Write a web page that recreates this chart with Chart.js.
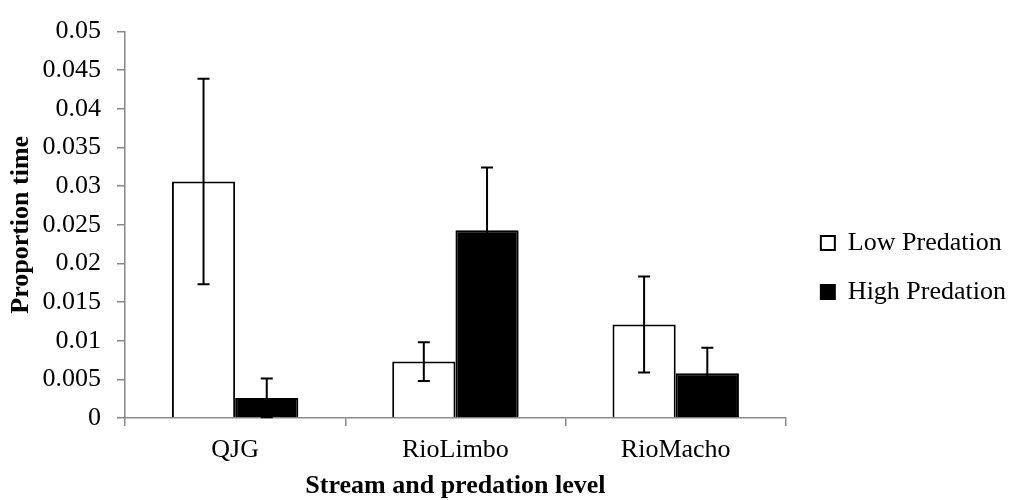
<!DOCTYPE html>
<html lang="en">
<head>
  <meta charset="UTF-8" />
  <title>Proportion time by stream and predation level</title>
  <script src="https://cdn.jsdelivr.net/npm/chart.js"></script>
  <style>
    body { margin: 0; background: #fff; }
  </style>
</head>
<body>
  <canvas id="chart" width="1010" height="500"></canvas>
  <script>
    const streams = ['QJG', 'RioLimbo', 'RioMacho'];
    const lowPredation = [0.0306, 0.0073, 0.0121];
    const highPredation = [0.0026, 0.0243, 0.0058];
    const lowErr = [0.0133, 0.0025, 0.0062];
    const highErr = [0.0025, 0.0081, 0.0033];

    const axisGray = '#898989';
    const serif = 'Liberation Serif';
    const fontSize = 26;

    // error bars, drawn through the y scale
    const errorBars = {
      id: 'errorBars',
      afterDatasetsDraw(chart) {
        const ctx = chart.ctx;
        const y = chart.scales.y;
        chart.data.datasets.forEach((ds, i) => {
          const meta = chart.getDatasetMeta(i);
          meta.data.forEach((bar, j) => {
            const v = ds.data[j], e = ds.err[j];
            const top = y.getPixelForValue(v + e);
            const bottom = y.getPixelForValue(Math.max(v - e, 0));
            ctx.save();
            ctx.strokeStyle = '#000';
            ctx.lineWidth = 2;
            ctx.beginPath();
            ctx.moveTo(bar.x, top);
            ctx.lineTo(bar.x, bottom);
            ctx.moveTo(bar.x - 6, top);
            ctx.lineTo(bar.x + 6, top);
            ctx.moveTo(bar.x - 6, bottom);
            ctx.lineTo(bar.x + 6, bottom);
            ctx.stroke();
            ctx.restore();
          });
        });
      }
    };

    // push the legend a bit away from the plot (Excel leaves a gap there)
    const legendShift = {
      id: 'legendShift',
      afterLayout(chart) {
        const lg = chart.legend;
        if (!lg) return;
        lg.left += 12;
        lg.right += 12;
      }
    };

    new Chart(document.getElementById('chart'), {
      type: 'bar',
      data: {
        labels: streams,
        datasets: [
          {
            label: 'Low Predation',
            data: lowPredation,
            err: lowErr,
            backgroundColor: '#fff',
            borderColor: '#000',
            borderWidth: 2,
            categoryPercentage: 0.574,
            barPercentage: 1
          },
          {
            label: 'High Predation',
            data: highPredation,
            err: highErr,
            backgroundColor: '#000',
            borderColor: '#000',
            borderWidth: 2,
            categoryPercentage: 0.574,
            barPercentage: 1
          }
        ]
      },
      options: {
        responsive: false,
        animation: false,
        layout: { padding: { top: 24, right: 6, bottom: -11, left: 0 } },
        plugins: {
          tooltip: { enabled: false },
          legend: {
            position: 'right',
            labels: {
              boxWidth: 14,
              boxHeight: 14,
              padding: 23,
              color: '#000',
              font: { family: serif, size: fontSize }
            }
          }
        },
        scales: {
          x: {
            offset: true,
            grid: { offset: true, drawOnChartArea: false, tickLength: 8, color: axisGray, lineWidth: 1.5 },
            border: { color: axisGray, width: 1.5 },
            ticks: { padding: 9, color: '#000', font: { family: serif, size: fontSize } },
            title: {
              display: true,
              text: 'Stream and predation level',
              color: '#000',
              padding: { top: 0, bottom: 9 },
              font: { family: serif, size: fontSize, weight: 'bold' }
            },
            afterFit(s) { s.height = 93; }
          },
          y: {
            min: 0,
            max: 0.05,
            grid: { drawOnChartArea: false, tickLength: 8, color: axisGray, lineWidth: 1.5 },
            border: { color: axisGray, width: 1.5 },
            ticks: {
              stepSize: 0.005,
              padding: 16,
              color: '#000',
              font: { family: serif, size: fontSize },
              callback: v => String(+v.toFixed(3))
            },
            title: {
              display: true,
              text: 'Proportion time',
              color: '#000',
              padding: { top: 6, bottom: 0 },
              font: { family: serif, size: fontSize, weight: 'bold' }
            },
            afterFit(s) { s.width = 125; }
          }
        }
      },
      plugins: [errorBars, legendShift]
    });
  </script>
</body>
</html>
